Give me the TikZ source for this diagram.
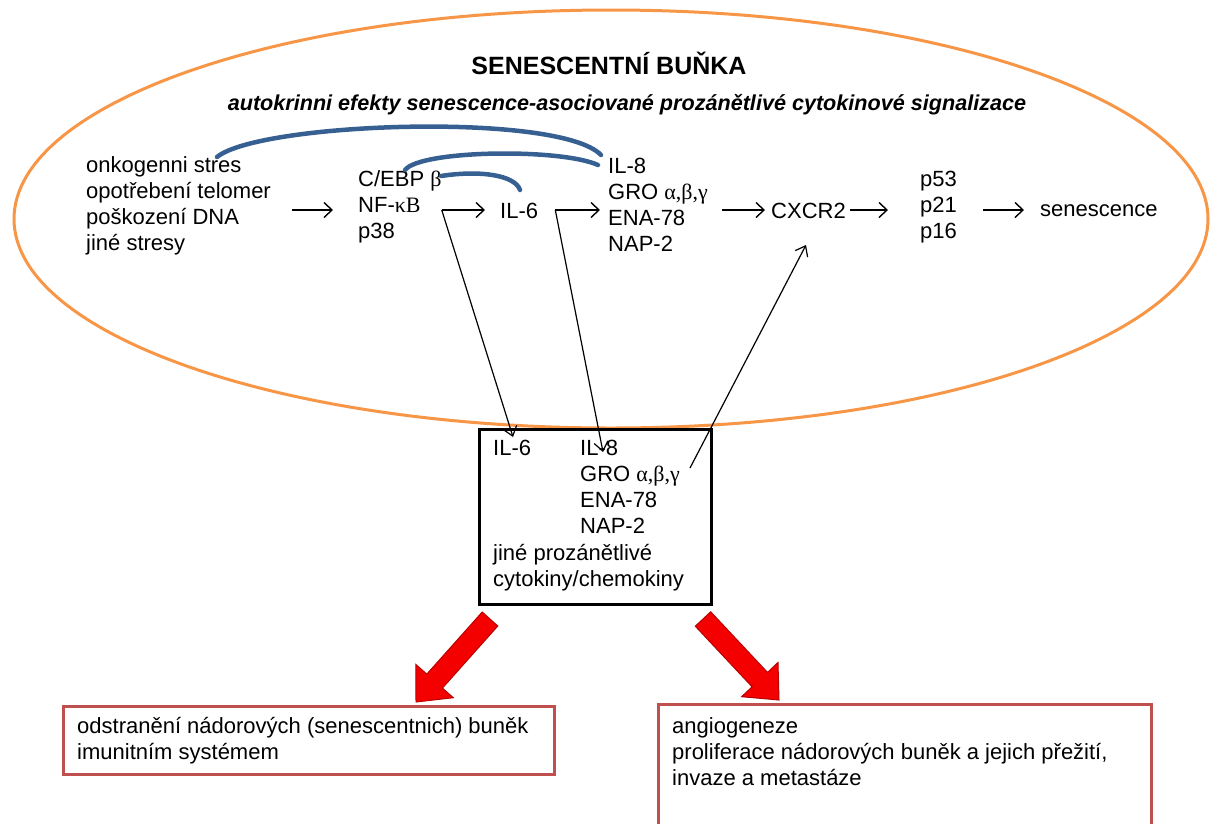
\documentclass[tikz,border=0pt]{standalone}
\usepackage{fontspec}
\setmainfont{Liberation Sans}
\newfontfamily\gk{Liberation Serif}
\usetikzlibrary{arrows.meta,calc}
\definecolor{orng}{RGB}{247,150,70}
\definecolor{fbblue}{RGB}{55,96,146}
\definecolor{boxred}{RGB}{192,80,77}
\definecolor{arrred}{RGB}{245,0,0}
\definecolor{arredge}{RGB}{185,0,0}
\begin{document}
\begin{tikzpicture}[x=1pt,y=-1pt,
  tx/.style={inner sep=0pt,font=\fontsize{22}{26}\selectfont},
  blk/.style={tx,align=left,anchor=north west},
  ln/.style={tx,anchor=base west},
  flow/.style={line width=1.4pt,-{Straight Barb[length=8pt,width=15pt]}},
  thinarr/.style={line width=1.2pt,-{Straight Barb[length=9pt,width=14pt]}},
  fb/.style={draw=fbblue,line width=4.5pt,line cap=round},
  redbox/.style={draw=boxred,line width=3pt,fill=white,inner sep=0pt,anchor=north west},
  bigarrow/.style={fill=arrred,draw=arredge,line width=1pt,line join=miter}]
\useasboundingbox (0,0) rectangle (1221,823);
\draw[orng,line width=3pt] (611,219) ellipse [x radius=597,y radius=209];
\node[anchor=base,inner sep=0pt,font=\fontsize{25}{30}\selectfont\bfseries] (title) at (609,74) {SENESCENTNÍ BUŇKA};
\node[anchor=base,inner sep=0pt,font=\fontsize{21.6}{26}\selectfont\bfseries\itshape] (sub) at (627,110) {autokrinni efekty senescence-asociované prozánětlivé cytokinové signalizace};
\node[blk] (L) at (86,153.8) {\strut onkogenni stres\\opotřebení telomer\\poškození DNA\\jiné stresy};
\node[blk] (C) at (358,167.8) {\strut C/EBP {\gk β}\\NF-{\gk κB}\\p38};
\node[ln] (I6) at (500,218) {IL-6};
\node[blk] (I8) at (608,154.8) {\strut IL-8\\GRO {\gk α,β,γ}\\ENA-78\\NAP-2};
\node[ln] (CX) at (771,218) {CXCR2};
\node[blk] (P) at (920,167.8) {\strut p53\\p21\\p16};
\node[ln] (S) at (1040,216) {senescence};
\coordinate (ax) at (0,210);
\coordinate (t2) at (C.east|-ax);
\coordinate (t3) at ($(I6.east|-ax)+(17,0)$);
% feedback arcs
\draw[fb] (217,157) .. controls (260,122) and (560,112) .. (601,155);
\draw[fb] (405,170) .. controls (420,150) and (560,148) .. (598,165);
\draw[fb] (441,176) .. controls (480,170) and (515,175) .. (520,190);
% main flow
\draw[flow,shorten <=21pt,shorten >=25pt] (L.east|-ax) -- (C.west|-ax);
\draw[flow,shorten >=15pt] (t2) -- (I6.west|-ax);
\draw[flow,shorten >=8pt] (t3) -- (I8.west|-ax);
\draw[flow,shorten <=14pt,shorten >=6pt] (I8.east|-ax) -- (CX.west|-ax);
\draw[flow,shorten <=4pt,shorten >=32pt] (CX.east|-ax) -- (P.west|-ax);
\draw[flow,shorten <=26pt,shorten >=16pt] (P.east|-ax) -- (S.west|-ax);
% secreted box
\node[draw,line width=3pt,inner sep=0pt,minimum width=232pt,minimum height=175pt,anchor=north west] (box) at (478,428) {};
\node[ln] (b1) at (493,455) {IL-6};
\node[blk,font=\fontsize{22}{26.2}\selectfont] (b2) at (580,436.66) {\strut IL-8\\GRO {\gk α,β,γ}\\ENA-78\\NAP-2};
\node[blk,font=\fontsize{22}{26.2}\selectfont] (b3) at (493,541.46) {\strut jiné prozánětlivé\\cytokiny/chemokiny};
\coordinate (e1) at (513,437);
\coordinate (e2) at (603,452);
\coordinate (s3) at (690,468);
\coordinate (e3) at (806,245);
\draw[thinarr] (t2) -- (e1);
\draw[thinarr] (t3) -- (e2);
\draw[thinarr] (s3) -- (e3);
% red arrows
\draw[bigarrow] (482.2,612.0) -- (426.8,674.1) -- (415.9,664.5) -- (416,702) -- (453.3,697.7) -- (442.4,688.1) -- (497.8,626.0) -- cycle;
\draw[bigarrow] (710.7,611.8) -- (767.5,672.4) -- (778.0,662.5) -- (779,700) -- (741.6,696.7) -- (752.1,686.8) -- (695.3,626.2) -- cycle;
% outcome boxes
\node[redbox,minimum width=491pt,minimum height=68pt] (r1) at (62,705) {};
\node[redbox,minimum width=493pt,minimum height=150pt] (r2) at (657,703) {};
\node[blk] (r1t) at (77,714.8) {\strut odstranění nádorových (senescentnich) buněk\\imunitním systémem};
\node[blk] (r2t) at (672,714.8) {\strut angiogeneze\\proliferace nádorových buněk a jejich přežití,\\invaze a metastáze};
\end{tikzpicture}
\end{document}
